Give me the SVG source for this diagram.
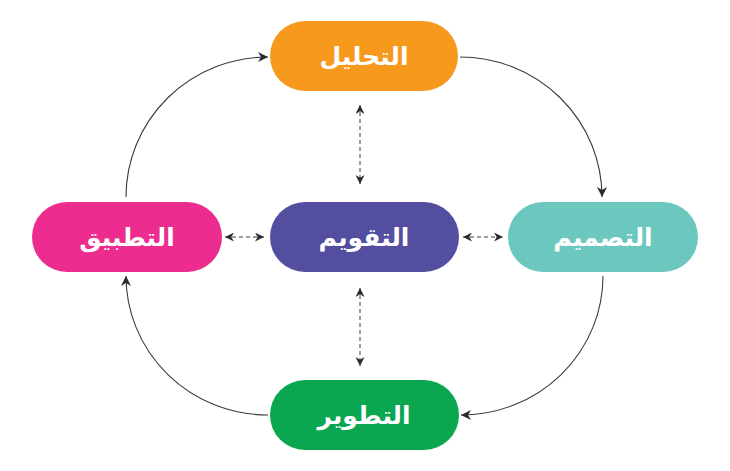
<svg xmlns="http://www.w3.org/2000/svg" width="730" height="471" viewBox="0 0 730 471">
<defs>
<marker id="ah" viewBox="0 0 10 10" refX="10" refY="5" markerWidth="10" markerHeight="10" markerUnits="userSpaceOnUse" orient="auto-start-reverse">
<path d="M0,0 L10,5 L0,10 L3,5 Z" fill="#2b2b2b"/>
</marker>
<marker id="ahs" viewBox="0 0 10 10" refX="10" refY="5" markerWidth="9" markerHeight="9" markerUnits="userSpaceOnUse" orient="auto-start-reverse">
<path d="M0,0 L10,5 L0,10 L3,5 Z" fill="#2b2b2b"/>
</marker>
</defs>
<style>
.lbl{font-family:"DejaVu Sans",sans-serif;font-weight:bold;font-size:25px;fill:#ffffff;text-anchor:middle;dominant-baseline:central}
.cur{fill:none;stroke:#3a3a3a;stroke-width:1.1;marker-end:url(#ah)}
.dsh{fill:none;stroke:#3a3a3a;stroke-width:1;stroke-dasharray:4,3;marker-start:url(#ahs);marker-end:url(#ahs)}
</style>
<rect width="730" height="471" fill="#ffffff"/>
<g id="connectors">
<path class="cur" d="M460,57 A142,140 0 0 1 602,197"/>
<path class="cur" d="M603,276 A142,139 0 0 1 461,415"/>
<path class="cur" d="M268,415 A142,139 0 0 1 126,276"/>
<path class="cur" d="M126,197 A142,140 0 0 1 268,57"/>
<path class="dsh" d="M360,105 L360,184"/>
<path class="dsh" d="M360,288 L360,366"/>
<path class="dsh" d="M225,237 L264,237"/>
<path class="dsh" d="M463,237 L503,237"/>
</g>
<g id="node-analysis">
<rect x="270" y="21" width="188" height="70" rx="35" fill="#F7991D"/>
<text class="lbl" x="364" y="56">التحليل</text>
</g>
<g id="node-application">
<rect x="32" y="202" width="190" height="70" rx="35" fill="#EC2C8E"/>
<text class="lbl" x="127" y="237">التطبيق</text>
</g>
<g id="node-evaluation">
<rect x="270" y="202" width="189" height="70" rx="35" fill="#534E9F"/>
<text class="lbl" x="364" y="237">التقويم</text>
</g>
<g id="node-design">
<rect x="508" y="202" width="190" height="70" rx="35" fill="#6CC8BF"/>
<text class="lbl" x="603" y="237">التصميم</text>
</g>
<g id="node-development">
<rect x="270" y="380" width="189" height="70" rx="35" fill="#0BA650"/>
<text class="lbl" x="364" y="415">التطوير</text>
</g>
</svg>
